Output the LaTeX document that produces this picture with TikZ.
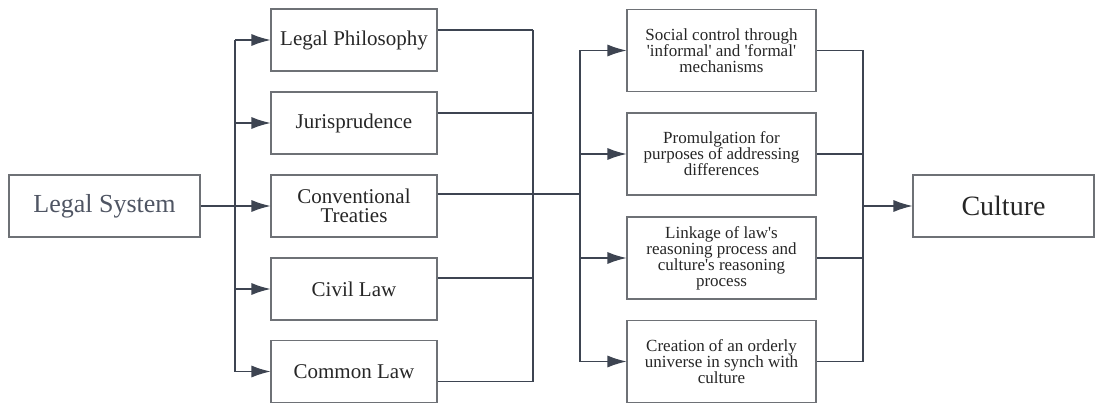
\documentclass[tikz,border=0pt]{standalone}
\usepackage{fontspec}
\setmainfont{Liberation Serif}
\usepackage{tikz}
\usetikzlibrary{arrows.meta}
\definecolor{wire}{HTML}{3D4451}
\definecolor{frame}{HTML}{6E7176}
\definecolor{slate}{HTML}{4F5563}
\newcommand{\sq}{\textquotesingle}
\tikzset{>={Latex[length=19pt,width=12pt]}}
\tikzset{
  bigbox/.style={draw=frame, line width=1.1pt, minimum width=182pt, minimum height=62pt,
    font=\fontsize{26}{28}\selectfont},
  midbox/.style={draw=frame, line width=1.1pt, minimum width=166pt, minimum height=62pt,
    align=center, text=black!85, font=\fontsize{21}{19}\selectfont},
  outbox/.style={draw=frame, line width=1.1pt, minimum width=189pt, minimum height=82pt,
    align=center, text=black!85, font=\fontsize{17}{16}\selectfont},
  link/.style={draw=wire, line width=1.1pt}
}
\begin{document}
\begin{tikzpicture}[x=1pt, y=-1pt]
      \useasboundingbox (0,0) rectangle (1095,404);
      % boxes
      \node[bigbox, minimum width=191pt, text=slate] (sys) at (104.5,206) {Legal System};
      \node[midbox] (phil) at (354,40) {Legal Philosophy};
      \node[midbox] (juris) at (354,123) {Jurisprudence};
      \node[midbox] (treat) at (354,206) {Conventional\\Treaties};
      \node[midbox] (civil) at (354,289) {Civil Law};
      \node[midbox] (common) at (354,371.5) {Common Law};
      \node[outbox] (control) at (721.5,50.5) {Social control through\\\sq informal\sq{} and \sq formal\sq\\mechanisms};
      \node[outbox] (promul) at (721.5,154) {Promulgation for\\purposes of addressing\\differences};
      \node[outbox] (linkage) at (721.5,258) {Linkage of law\sq s\\reasoning process and\\culture\sq s reasoning\\process};
      \node[outbox] (orderly) at (721.5,361.5) {Creation of an orderly\\universe in synch with\\culture};
      \node[bigbox, minimum width=181pt, text=black!85, font=\fontsize{28}{30}\selectfont] (cult) at (1003.5,206) {Culture};
      % branch points
      \coordinate (fanA) at (235,206);
      \coordinate (joinA) at (533,194);
      \coordinate (fanB) at (580,194);
      \coordinate (joinB) at (863,206);
      \coordinate (philR) at ([yshift=10pt]phil.east);
      \coordinate (jurisR) at ([yshift=10pt]juris.east);
      \coordinate (treatR) at ([yshift=12pt]treat.east);
      \coordinate (civilR) at ([yshift=11pt]civil.east);
      \coordinate (commonR) at ([yshift=-10pt]common.east);
      % legal system to its branches
      \draw[link] (sys.east) -- (fanA);
      \draw[link] (fanA |- phil.west) -- (fanA |- common.west);
      \draw[link,->] (fanA |- phil.west) -- (phil.west);
      \draw[link,->] (fanA |- juris.west) -- (juris.west);
      \draw[link,->] (fanA) -- (treat.west);
      \draw[link,->] (fanA |- civil.west) -- (civil.west);
      \draw[link,->] (fanA |- common.west) -- (common.west);
      % branches collected
      \draw[link] (philR) -- (joinA |- philR);
      \draw[link] (jurisR) -- (joinA |- jurisR);
      \draw[link] (treatR) -- (joinA);
      \draw[link] (civilR) -- (joinA |- civilR);
      \draw[link] (commonR) -- (joinA |- commonR);
      \draw[link] (joinA |- philR) -- (joinA |- commonR);
      \draw[link] (joinA) -- (fanB);
      % to the four functions
      \draw[link] (fanB |- control.west) -- (fanB |- orderly.west);
      \draw[link,->] (fanB |- control.west) -- (control.west);
      \draw[link,->] (fanB |- promul.west) -- (promul.west);
      \draw[link,->] (fanB |- linkage.west) -- (linkage.west);
      \draw[link,->] (fanB |- orderly.west) -- (orderly.west);
      % functions to culture
      \draw[link] (control.east) -- (joinB |- control.east);
      \draw[link] (promul.east) -- (joinB |- promul.east);
      \draw[link] (linkage.east) -- (joinB |- linkage.east);
      \draw[link] (orderly.east) -- (joinB |- orderly.east);
      \draw[link] (joinB |- control.east) -- (joinB |- orderly.east);
      \draw[link,->] (joinB) -- (cult.west);
\end{tikzpicture}
\end{document}
